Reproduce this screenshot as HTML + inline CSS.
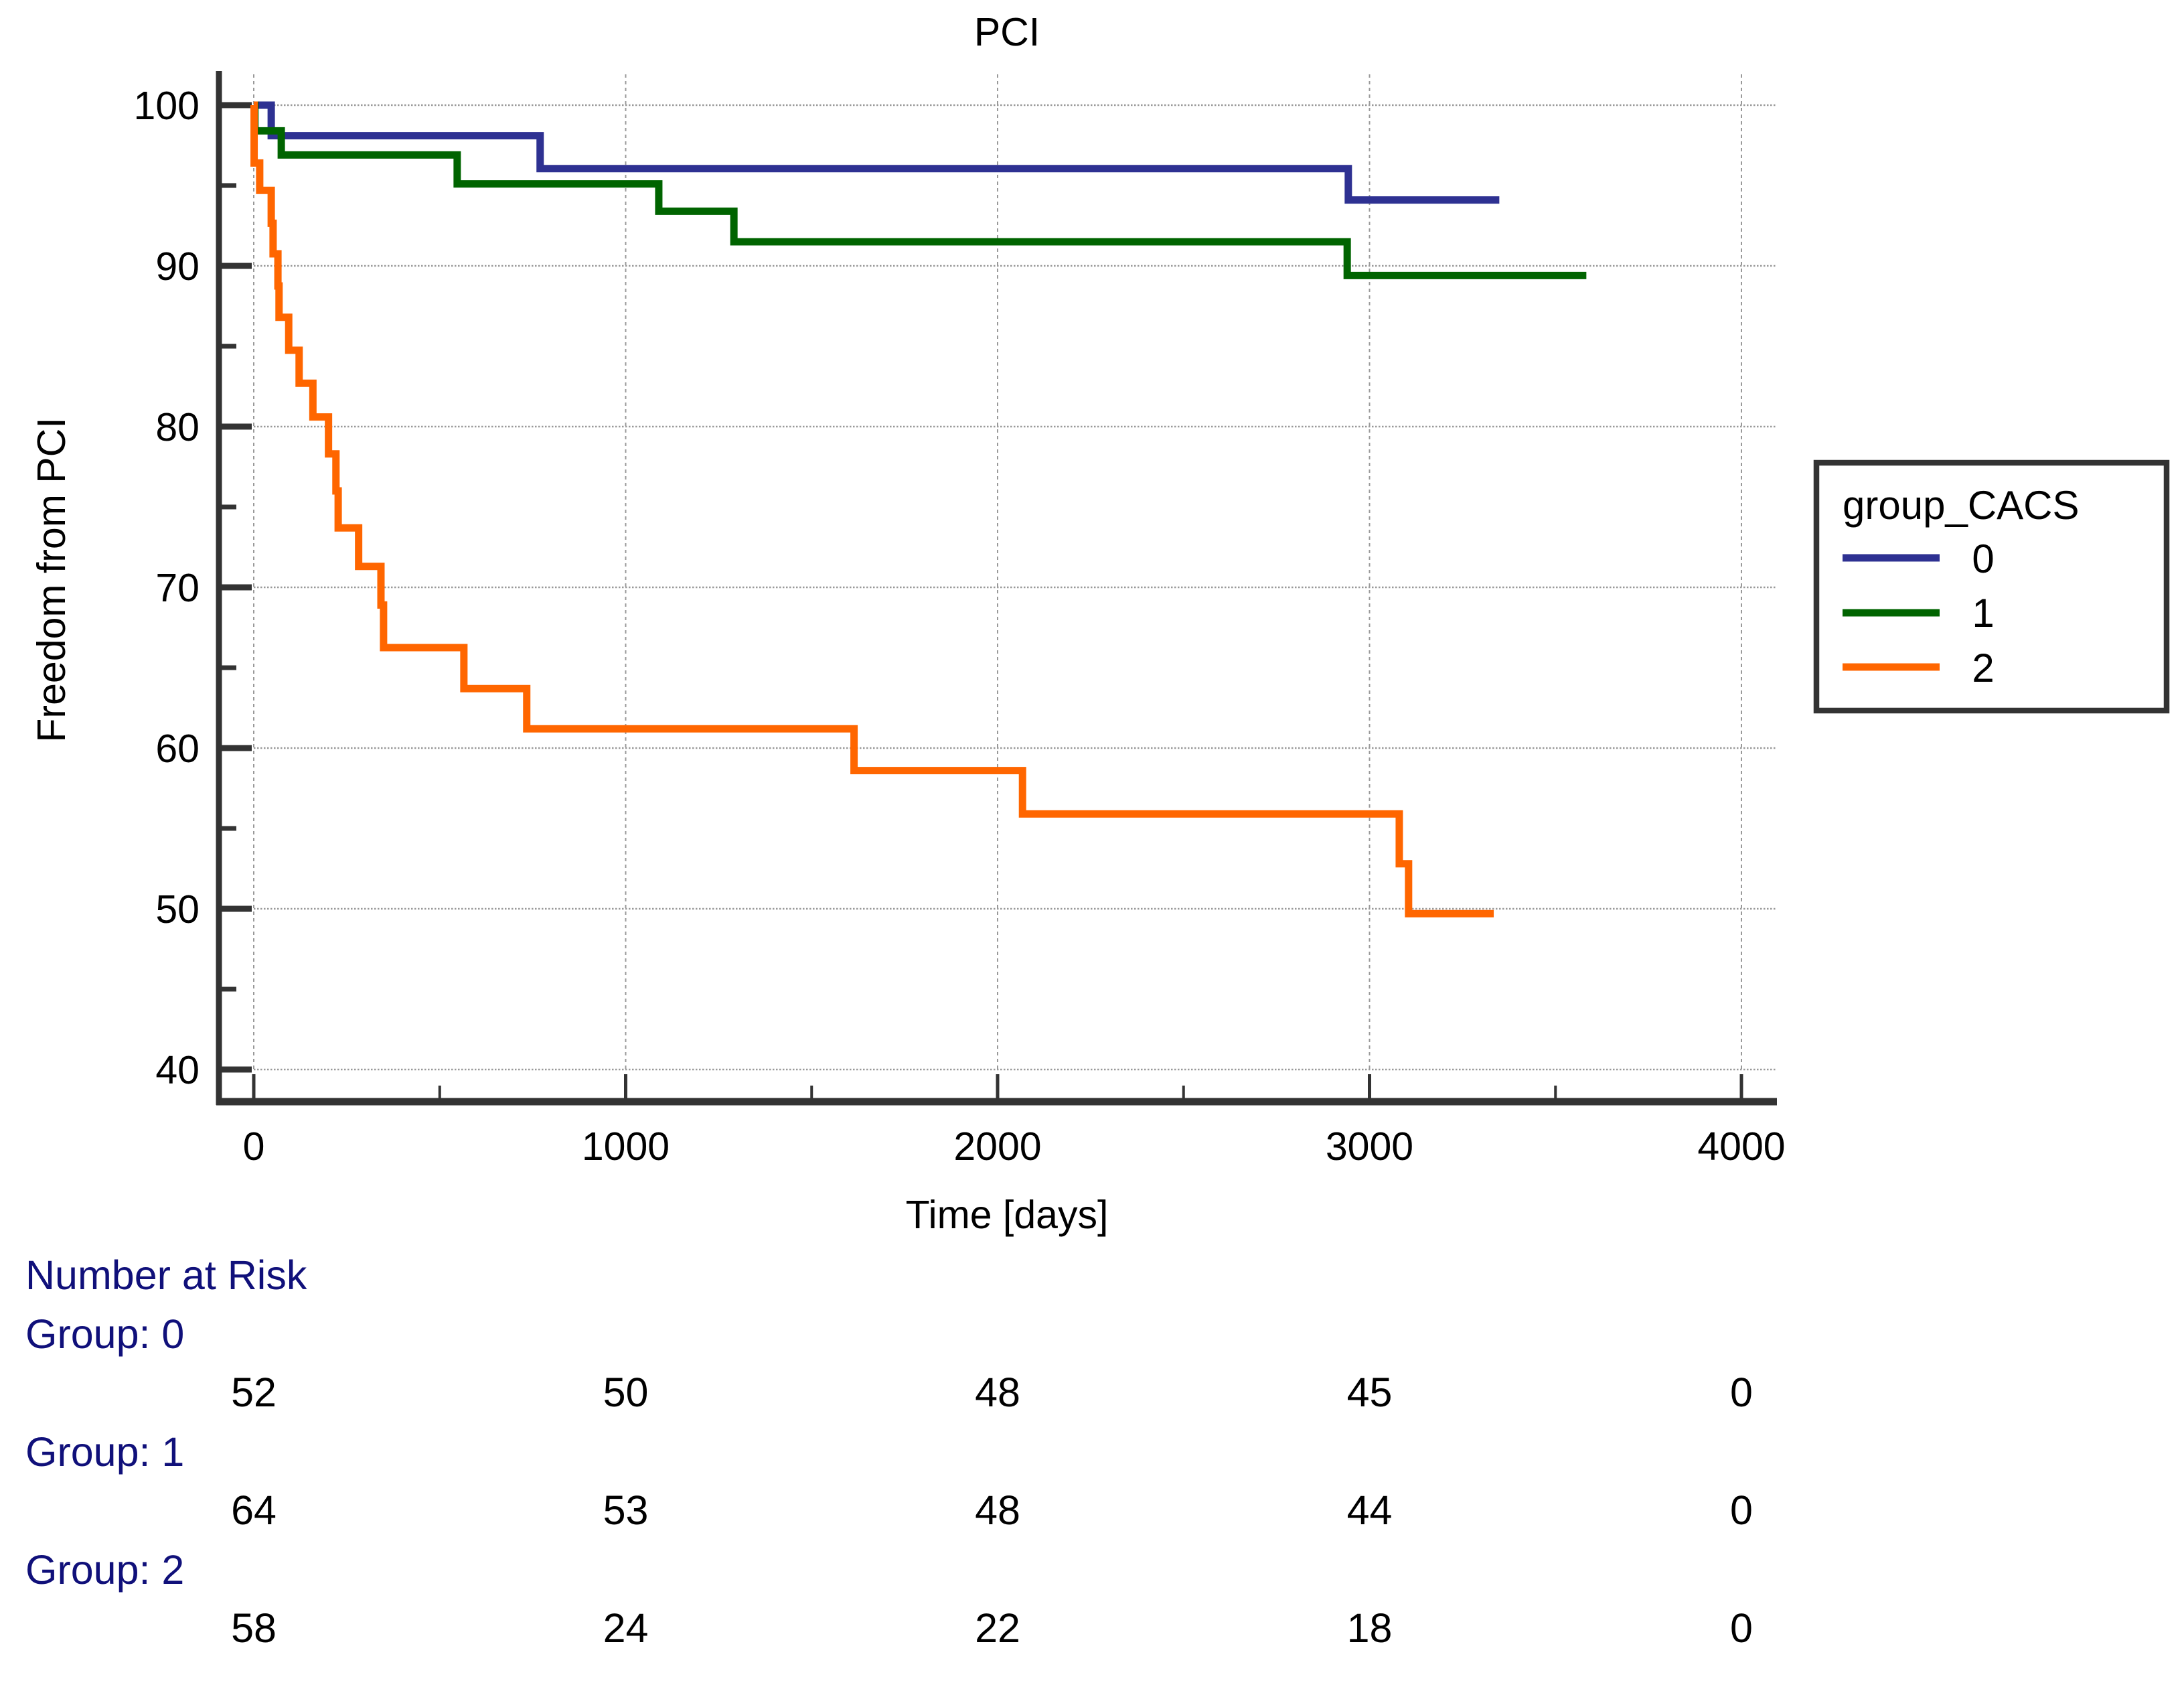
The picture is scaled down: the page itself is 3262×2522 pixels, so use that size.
<!DOCTYPE html>
<html><head><meta charset="utf-8"><style>
html,body{margin:0;padding:0;background:#fff;}
svg{display:block;font-family:"Liberation Sans",sans-serif;}
</style></head><body>
<svg id="chart" width="3262" height="2522" viewBox="0 0 3262 2522" xmlns="http://www.w3.org/2000/svg">
<rect width="3262" height="2522" fill="#fff"/>
<text x="1504" y="68" font-size="59" text-anchor="middle">PCI</text>
<text x="1504" y="1834" font-size="59" text-anchor="middle">Time [days]</text>
<text transform="translate(97,866) rotate(-90)" font-size="59" text-anchor="middle">Freedom from PCI</text>
<g id="grid"></g><g id="axes"></g><g id="series"></g><g id="risk"></g>
<g>
<rect x="2713" y="691" width="523" height="370" fill="#fff" stroke="#333" stroke-width="8.5"/>
<text x="2752" y="775" font-size="60">group_CACS</text>
<line x1="2752" x2="2897" y1="833" y2="833" stroke="#2e3192" stroke-width="11"/>
<text x="2962" y="855" font-size="60" text-anchor="middle">0</text>
<line x1="2752" x2="2897" y1="915" y2="915" stroke="#006400" stroke-width="11"/>
<text x="2962" y="936" font-size="60" text-anchor="middle">1</text>
<line x1="2752" x2="2897" y1="996" y2="996" stroke="#ff6600" stroke-width="11"/>
<text x="2962" y="1018" font-size="60" text-anchor="middle">2</text>
</g>
</svg>
<script>
const xTicks = [0, 1000, 2000, 3000, 4000];
const yTicks = [40, 50, 60, 70, 80, 90, 100];
const g0Times = [0, 47, 770, 2943, 3349];
const g0Surv = [100, 98.1, 96.05, 94.1, 94.1];
const g1Times = [0, 3, 74, 547, 1089, 1291, 2940, 3583];
const g1Surv = [100, 98.4, 96.9, 95.1, 93.4, 91.5, 89.4, 89.4];
const g2Times = [0, 1, 16, 47, 52, 65, 68, 94, 122, 159, 201, 221, 227, 282, 342, 349, 565, 734, 1614, 2067, 3080, 3105, 3334];
const g2Surv = [100, 96.4, 94.7, 92.65, 90.75, 88.75, 86.8, 84.75, 82.7, 80.6, 78.3, 76, 73.7, 71.3, 68.9, 66.25, 63.7, 61.2, 58.6, 55.9, 52.8, 49.7, 49.7];
const riskGroups = ["Group: 0", "Group: 1", "Group: 2"];
const riskTimes = [0, 1000, 2000, 3000, 4000];
const risk0 = [52, 50, 48, 45, 0];
const risk1 = [64, 53, 48, 44, 0];
const risk2 = [58, 24, 22, 18, 0];

const NS = "http://www.w3.org/2000/svg";
const X = d => 379 + d * 0.5555;
const Y = v => 157 + (100 - v) * 24;
function mk(tag, attrs, parent){const e=document.createElementNS(NS,tag);for(const k in attrs)e.setAttribute(k,attrs[k]);parent.appendChild(e);return e;}
const grid=document.getElementById('grid'), axes=document.getElementById('axes'), series=document.getElementById('series'), risk=document.getElementById('risk');

yTicks.forEach(v=>{
  const l=mk('line',{x1:379,x2:2654,y1:Y(v),y2:Y(v),stroke:'#999','stroke-width':2.5,'stroke-dasharray':'2.5 2.5'},grid);
  
  
  const t=mk('line',{x1:323,x2:376,y1:Y(v),y2:Y(v),stroke:'#333','stroke-width':9},axes);
  
  
  const tx=mk('text',{x:298,y:Y(v)+21,'font-size':59,'text-anchor':'end'},axes);
  tx.textContent=v;
  
  
  if(v<100){
    const m=mk('line',{x1:323,x2:353,y1:Y(v+5),y2:Y(v+5),stroke:'#333','stroke-width':7},axes);
    
    
  }
});
xTicks.forEach((d,i)=>{
  const l=mk('line',{x1:X(d),x2:X(d),y1:111,y2:1597,stroke:'#999','stroke-width':2,'stroke-dasharray':'5 5'},grid);
  
  
  const t=mk('line',{x1:X(d),x2:X(d),y1:1604,y2:1645,stroke:'#333','stroke-width':5},axes);
  
  
  const tx=mk('text',{x:X(d),y:1732,'font-size':59,'text-anchor':'middle'},axes);
  tx.textContent=d;
  
  
  if(i<xTicks.length-1){
    const m=mk('line',{x1:X(d+500),x2:X(d+500),y1:1621,y2:1645,stroke:'#333','stroke-width':4},axes);
    
    
  }
});
const ya=mk('line',{x1:327,x2:327,y1:106,y2:1650,stroke:'#333','stroke-width':9},axes);


const xa=mk('line',{x1:323,x2:2654,y1:1645,y2:1645,stroke:'#333','stroke-width':11},axes);



function step(times,surv,color,name){
  let d='M'+X(times[0])+' '+Y(surv[0]);
  for(let i=1;i<times.length;i++){d+=' H'+X(times[i])+' V'+Y(surv[i]);}
  const p=mk('path',{d:d,fill:'none',stroke:color,'stroke-width':11,'stroke-linejoin':'miter','stroke-linecap':'butt'},series);
  
  
}
step(g0Times,g0Surv,'#2e3192','km-curve-group-0');
step(g1Times,g1Surv,'#006400','km-curve-group-1');
step(g2Times,g2Surv,'#ff6600','km-curve-group-2');

const rh=mk('text',{x:38,y:1925,'font-size':61,fill:'#10107a'},risk);
rh.textContent='Number at Risk';


[risk0,risk1,risk2].forEach((row,gi)=>{
  const base=2013+gi*176;
  const gl=mk('text',{x:38,y:base,'font-size':61,fill:'#10107a'},risk);
  gl.textContent=riskGroups[gi];
  
  
  row.forEach((n,j)=>{
    const t=mk('text',{x:X(riskTimes[j]),y:base+87,'font-size':61,'text-anchor':'middle'},risk);
    t.textContent=n;
    
    
  });
});
</script>
</body></html>
